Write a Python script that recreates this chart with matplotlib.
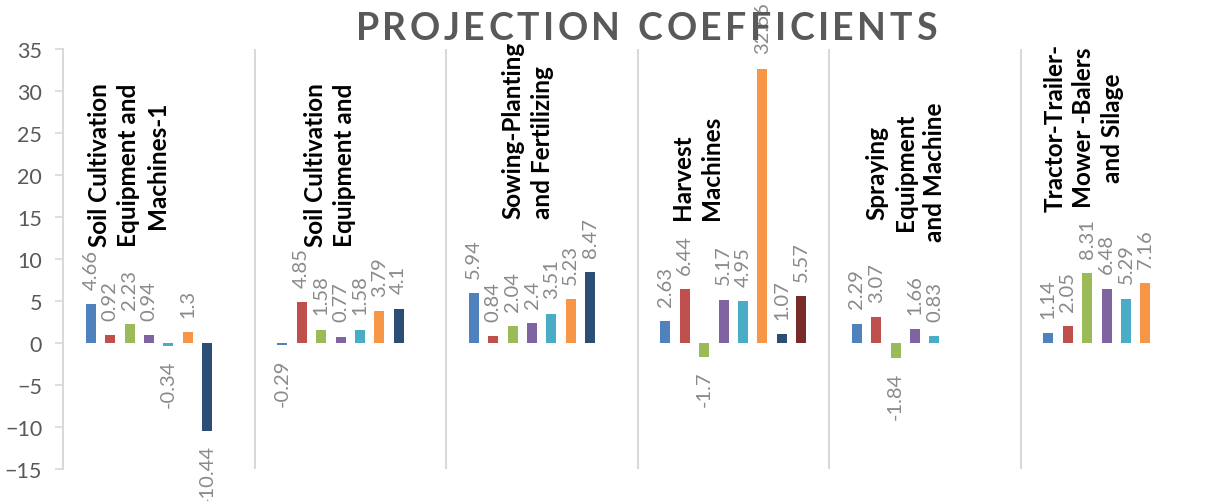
import matplotlib.pyplot as plt
import numpy as np

plt.rcParams['font.family'] = ['Lato', 'DejaVu Sans']

categories = [
    "Soil Cultivation\nEquipment and\nMachines-1",
    "Soil Cultivation\nEquipment and",
    "Sowing-Planting\nand Fertilizing",
    "Harvest\nMachines",
    "Spraying\nEquipment\nand Machine",
    "Tractor-Trailer-\nMower -Balers\nand Silage",
]
title = "PROJECTION COEFFICIENTS"

# one list per series (slot in each cluster), None = no bar
s1 = [4.66, -0.29, 5.94, 2.63, 2.29, 1.14]
s2 = [0.92, 4.85, 0.84, 6.44, 3.07, 2.05]
s3 = [2.23, 1.58, 2.04, -1.7, -1.84, 8.31]
s4 = [0.94, 0.77, 2.4, 5.17, 1.66, 6.48]
s5 = [-0.34, 1.58, 3.51, 4.95, 0.83, 5.29]
s6 = [1.3, 3.79, 5.23, 32.66, None, 7.16]
s7 = [-10.44, 4.1, 8.47, 1.07, None, None]
s8 = [None, None, None, 5.57, None, None]
series = [s1, s2, s3, s4, s5, s6, s7, s8]

colors = ['#4F81BD', '#C0504D', '#9BBB59', '#8064A2',
          '#4BACC6', '#F79646', '#2C4D75', '#772C2A']

# label block placement (x offset from category centre, y, alignment)
lab_dx = [-0.157, -0.107, -0.073, -0.188, -0.10, -0.17]
lab_y = [21.3, 21.3, 14.9, 14.8, 20.4, 25.7]
lab_va = ['center', 'center', 'bottom', 'bottom', 'center', 'center']
lab_ma = ['center', 'center', 'left', 'left', 'center', 'center']

fig = plt.figure(figsize=(12.06, 5.02), dpi=100)
ax = fig.add_axes([63/1206, 32/502, 1149/1206, 420/502])

x = np.arange(len(categories))
slot = 0.1013
w = 0.052
for k, s in enumerate(series):
    for i, v in enumerate(s):
        if v is None:
            continue
        xi = x[i] + (k - 3.5) * slot
        ax.bar(xi, v, width=w, color=colors[k], zorder=3)
        off = 11 if v >= 0 else -9.5
        ax.annotate(str(v), (xi, v), xytext=(0, off), textcoords='offset points',
                    rotation=90, ha='center', va='bottom' if v >= 0 else 'top',
                    fontsize=14.5, color='#8A8A8A', annotation_clip=False)

for i, c in enumerate(categories):
    ax.text(x[i] + lab_dx[i], lab_y[i], c, rotation=90, ha='center', va=lab_va[i],
            multialignment=lab_ma[i], fontsize=17.5, fontweight='bold',
            color='black', linespacing=1.3)

for b in np.arange(0.5, len(categories) - 0.5, 1):
    ax.axvline(b, color='#D9D9D9', lw=1.5, zorder=1)

ax.set_xlim(-0.5, len(categories) - 0.5)
ax.set_ylim(-15, 35)
ax.set_yticks(range(-15, 40, 5))
ax.set_xticks([])
for sp in ['top', 'right', 'bottom']:
    ax.spines[sp].set_visible(False)
ax.spines['left'].set_color('#D9D9D9')
ax.spines['left'].set_linewidth(1.5)
ax.tick_params(axis='y', direction='out', length=6, width=1.2, color='#D9D9D9',
               labelcolor='#595959', labelsize=15.5, pad=9)

# title with letter spacing: place letters one by one
r = fig.canvas.get_renderer()
parts = []
for ch in title:
    t = fig.text(0, 0, ch if ch != ' ' else 'I', fontsize=27, fontweight='bold',
                 color='#595959', va='center', ha='left')
    wpx = t.get_window_extent(renderer=r).width
    if ch == ' ':
        t.set_text('')
        wpx *= 1.0
    parts.append((t, wpx))
gap = 3.5
total = sum(p[1] for p in parts) + gap * (len(parts) - 1)
xpos = 646 - total / 2
for t, wpx in parts:
    t.set_position((xpos / 1206, 1 - 29 / 502))
    xpos += wpx + gap

fig.savefig('out.png', dpi=100)
